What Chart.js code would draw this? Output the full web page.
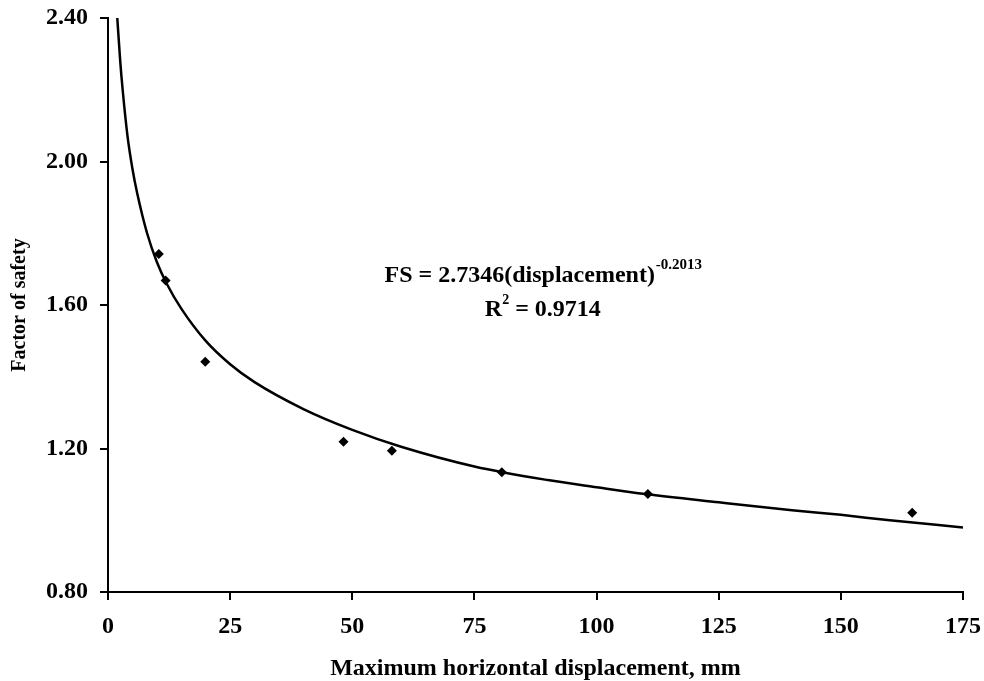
<!DOCTYPE html>
<html>
<head>
<meta charset="utf-8">
<title>Factor of safety vs displacement</title>
<script src="https://cdn.jsdelivr.net/npm/chart.js@4.4.1/dist/chart.umd.min.js"></script>
<style>
  html, body { margin: 0; padding: 0; background: #fff; }
  #wrap { width: 984px; height: 681px; }
</style>
</head>
<body>
<div id="wrap"><canvas id="chart" width="984" height="681"></canvas></div>
<script>
// ---------------------------------------------------------------------------
// Data
// ---------------------------------------------------------------------------

// measured points
const measuredX = [10.4, 11.8, 19.9, 48.2, 58.1, 80.6, 110.5, 164.6];
const measuredFS = [1.742, 1.668, 1.442, 1.219, 1.194, 1.134, 1.073, 1.021];

// power trend line
const trendX = [1.9, 2.5, 3, 4, 5, 6, 8, 10, 12, 15, 20, 25, 30, 40, 50, 60, 75, 90, 100, 110, 125, 140, 150, 160, 175];
const trendFS = [2.40, 2.28, 2.20, 2.07, 1.98, 1.91, 1.80, 1.72, 1.66, 1.59, 1.50, 1.435, 1.385, 1.31, 1.252, 1.205, 1.15, 1.112, 1.092, 1.073, 1.05, 1.028, 1.015, 1.0, 0.98];

const xTicks = [0, 25, 50, 75, 100, 125, 150, 175];
const yTicks = [0.80, 1.20, 1.60, 2.00, 2.40];

const eqLine = "FS = 2.7346(displacement)";
const eqExp = "-0.2013";
const r2Value = " = 0.9714";

// ---------------------------------------------------------------------------
// Helpers
// ---------------------------------------------------------------------------

const SERIF = "'Liberation Serif', 'Times New Roman', serif";

function toPoints(xs, ys) {
  return xs.map((x, i) => ({ x, y: ys[i] }));
}

// equation + R² text, placed in data coordinates
const equationPlugin = {
  id: "equation",
  afterDatasetsDraw(chart) {
    const { ctx, scales } = chart;
    const cx = scales.x.getPixelForValue(89);
    const y1 = scales.y.getPixelForValue(1.682);
    const y2 = scales.y.getPixelForValue(1.588);

    ctx.save();
    ctx.fillStyle = "#000";
    ctx.textBaseline = "middle";
    ctx.textAlign = "left";

    // line 1 with superscript exponent
    ctx.font = "bold 24px " + SERIF;
    const mainW = ctx.measureText(eqLine).width;
    ctx.font = "bold 15px " + SERIF;
    const expW = ctx.measureText(eqExp).width;
    let x0 = cx - (mainW + expW) / 2;
    ctx.font = "bold 24px " + SERIF;
    ctx.fillText(eqLine, x0, y1);
    ctx.font = "bold 15px " + SERIF;
    ctx.fillText(eqExp, x0 + mainW + 1, y1 - 10);

    // line 2: R² = ...
    ctx.font = "bold 24px " + SERIF;
    const rW = ctx.measureText("R").width;
    const valW = ctx.measureText(r2Value).width;
    ctx.font = "bold 14px " + SERIF;
    const twoW = ctx.measureText("2").width;
    x0 = cx - (rW + twoW + valW) / 2;
    ctx.font = "bold 24px " + SERIF;
    ctx.fillText("R", x0, y2);
    ctx.font = "bold 14px " + SERIF;
    ctx.fillText("2", x0 + rW, y2 - 9);
    ctx.font = "bold 24px " + SERIF;
    ctx.fillText(r2Value, x0 + rW + twoW, y2);
    ctx.restore();
  },
};

// ---------------------------------------------------------------------------
// Chart
// ---------------------------------------------------------------------------

new Chart(document.getElementById("chart").getContext("2d"), {
  type: "scatter",
  data: {
    datasets: [
      {
        label: "Measured",
        data: toPoints(measuredX, measuredFS),
        pointStyle: "rectRot",
        pointRadius: 5,
        backgroundColor: "#000",
        borderColor: "#000",
        borderWidth: 0,
        order: 0,
      },
      {
        label: "Power trend",
        data: toPoints(trendX, trendFS),
        showLine: true,
        pointRadius: 0,
        borderColor: "#000",
        borderWidth: 2.5,
        cubicInterpolationMode: "monotone",
        order: 1,
      },
    ],
  },
  plugins: [equationPlugin],
  options: {
    responsive: false,
    animation: false,
    layout: { padding: { top: 18, right: 21, bottom: 0, left: 0 } },
    plugins: {
      legend: { display: false },
      tooltip: { enabled: false },
    },
    scales: {
      x: {
        type: "linear",
        min: 0,
        max: 175,
        afterFit: (s) => { s.height = 89; s.paddingLeft = 0; s.paddingRight = 0; },
        afterBuildTicks: (s) => { s.ticks = xTicks.map((v) => ({ value: v })); },
        ticks: {
          color: "#000",
          padding: 12,
          font: { family: SERIF, size: 24, weight: "bold" },
          callback: (v) => String(v),
        },
        grid: { drawOnChartArea: false, drawTicks: true, tickLength: 8, color: "#000", lineWidth: 2 },
        border: { color: "#000", width: 2 },
        title: {
          display: true,
          text: "Maximum horizontal displacement, mm",
          color: "#000",
          font: { family: SERIF, size: 24, weight: "bold" },
          padding: { top: 0, bottom: -2 },
        },
      },
      y: {
        type: "linear",
        min: 0.8,
        max: 2.4,
        afterFit: (s) => { s.width = 108; s.paddingTop = 0; s.paddingBottom = 0; },
        afterBuildTicks: (s) => { s.ticks = yTicks.map((v) => ({ value: v })); },
        ticks: {
          color: "#000",
          padding: 12,
          font: { family: SERIF, size: 24, weight: "bold" },
          callback: (v) => Number(v).toFixed(2),
        },
        grid: { drawOnChartArea: false, drawTicks: true, tickLength: 8, color: "#000", lineWidth: 2 },
        border: { color: "#000", width: 2 },
        title: {
          display: true,
          text: "Factor of safety",
          color: "#000",
          font: { family: SERIF, size: 20, weight: "bold" },
          padding: { top: 8, bottom: 0 },
        },
      },
    },
  },
});
</script>
</body>
</html>
